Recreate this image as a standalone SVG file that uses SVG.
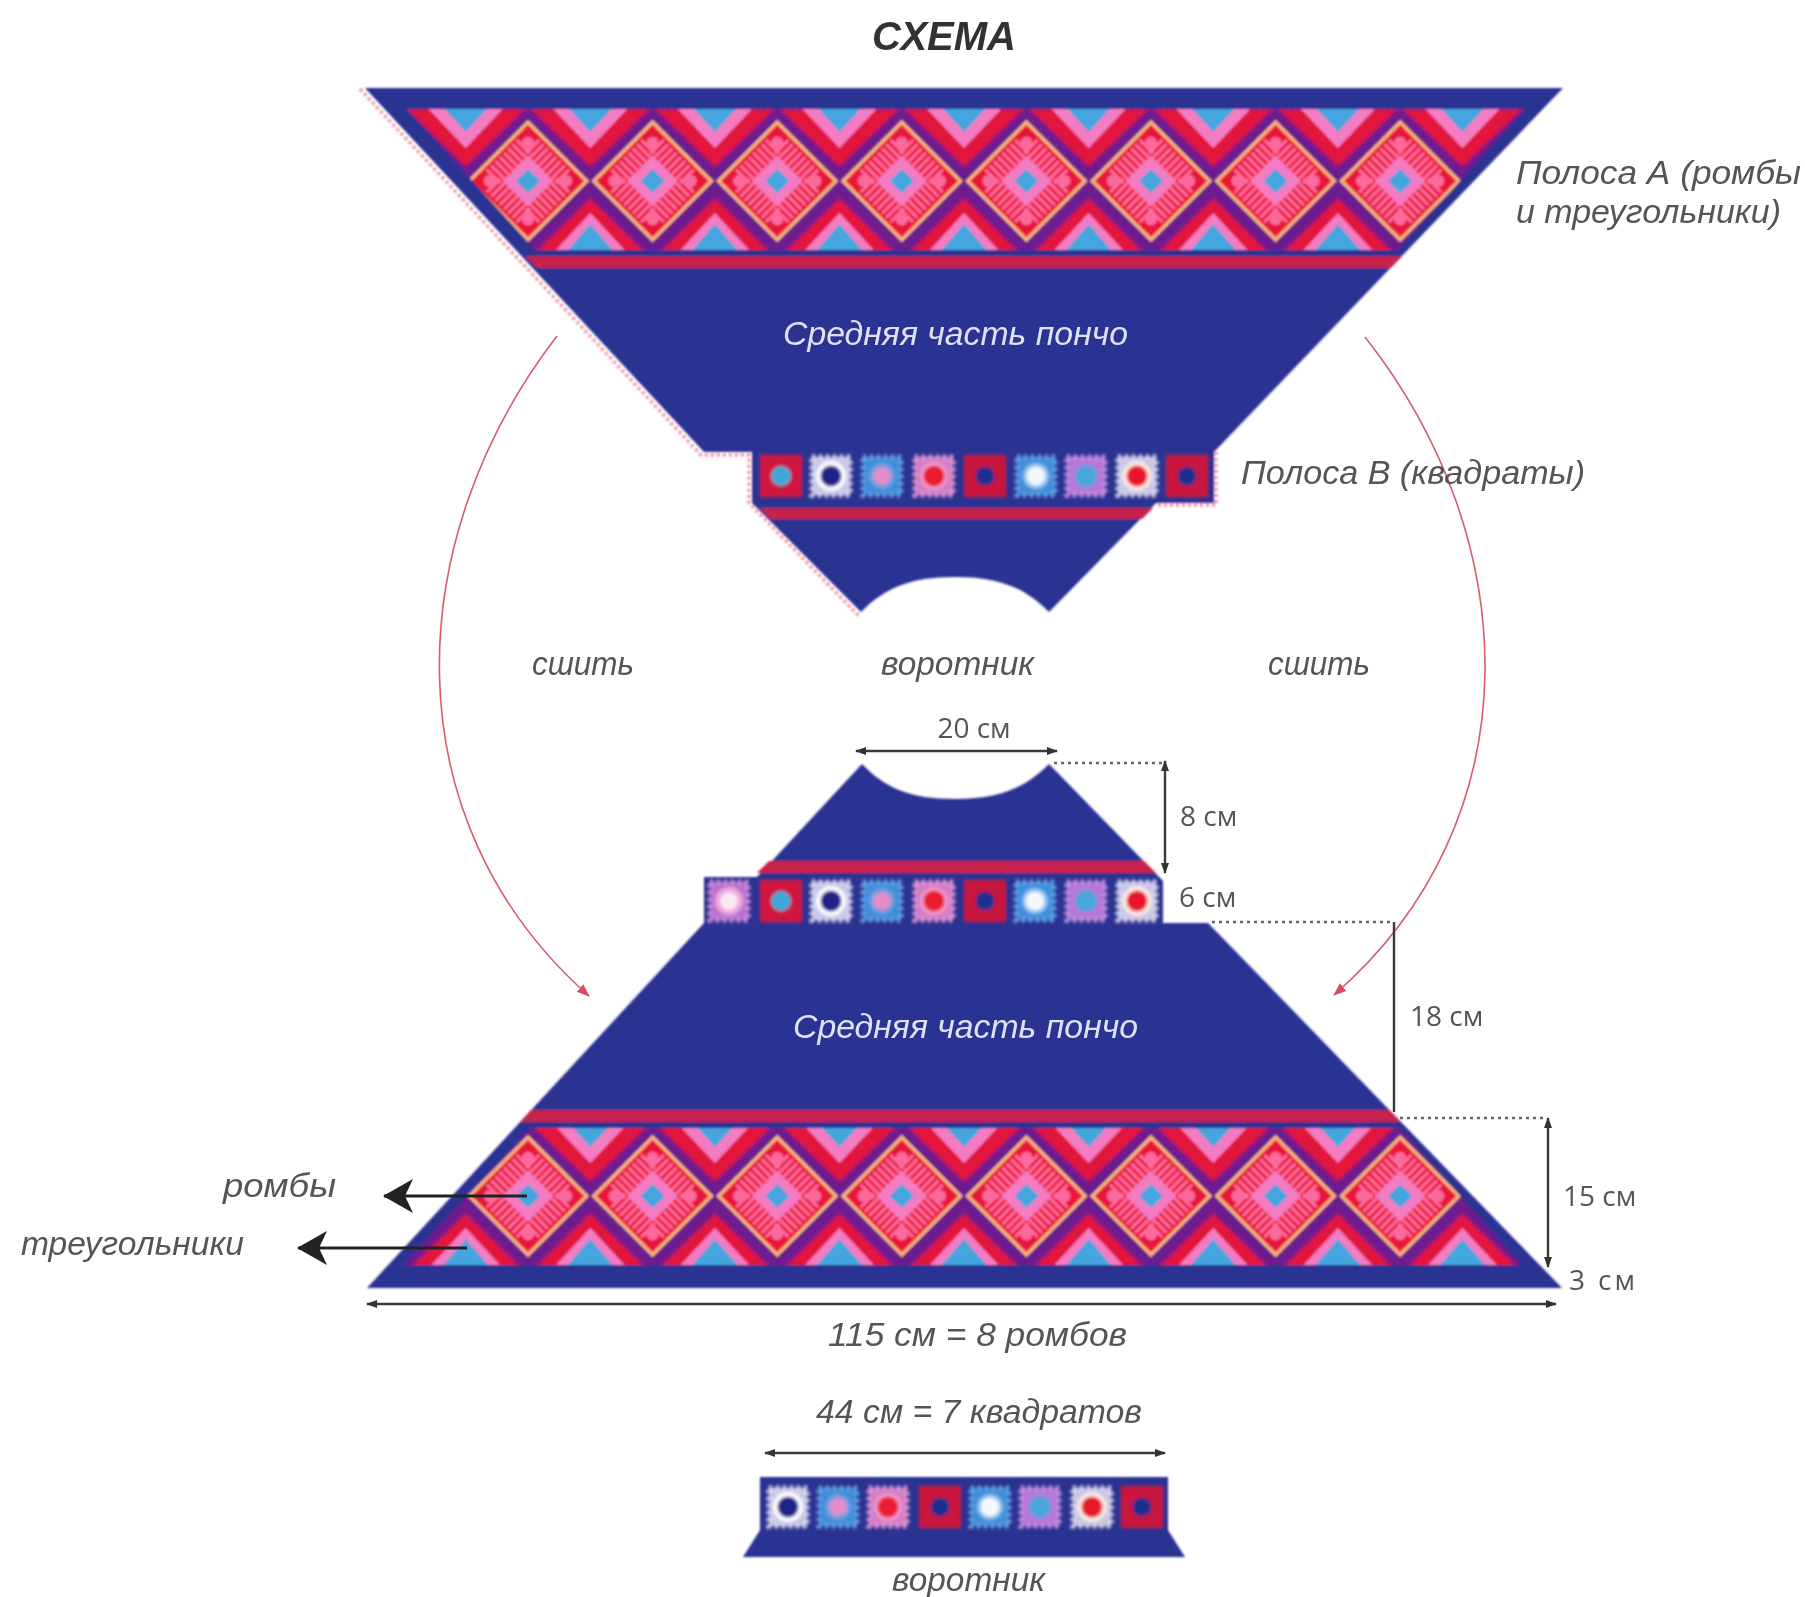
<svg xmlns="http://www.w3.org/2000/svg" width="1805" height="1597" viewBox="0 0 1805 1597">
<style>
.navy{fill:#2b3192}.bar{fill:#c6204c}.pur{fill:#6c1a8e}.red{fill:#e2163c;stroke:#a3157a;stroke-width:4;stroke-dasharray:3 3}.pink{fill:#f47cc2}.sky{fill:#45a5de}
text{font-family:"Liberation Sans",Arial,sans-serif;fill:#555}
.it{font-style:italic;font-size:33px}
.lt{fill:#dfe2f6;font-style:italic;font-size:33px}
.dim{font-family:"Open Sans","Noto Sans",sans-serif;font-size:28px}
.dl{stroke:#3a3a3a;stroke-width:2.4;fill:none}
.dot{stroke:#666;stroke-width:2.4;stroke-dasharray:3 4;fill:none}
.seam{stroke:#d95c6c;stroke-width:1.6;fill:none}
.edge{stroke:#ea8fa8;stroke-width:3.5;stroke-dasharray:3 3;fill:none}
</style>
<defs>
<filter id="soft" filterUnits="userSpaceOnUse" x="0" y="0" width="1805" height="1597"><feGaussianBlur stdDeviation="1.300"/></filter>
<filter id="softer" filterUnits="userSpaceOnUse" x="0" y="0" width="1805" height="1597"><feGaussianBlur stdDeviation="1.200"/></filter>
<filter id="softt" filterUnits="userSpaceOnUse" x="0" y="0" width="1805" height="1597"><feGaussianBlur stdDeviation="0.700"/></filter>
<marker id="ah" markerWidth="12" markerHeight="8" refX="10" refY="4" orient="auto-start-reverse" markerUnits="userSpaceOnUse"><path d="M0 0L11 4L0 8z" fill="#333"/></marker>
<marker id="ar" markerWidth="14" markerHeight="12" refX="12" refY="6" orient="auto" markerUnits="userSpaceOnUse"><path d="M0 1L13 6L0 11z" fill="#d94c60"/></marker>
<marker id="ab" markerWidth="34" markerHeight="36" refX="31" refY="18" orient="auto" markerUnits="userSpaceOnUse"><path d="M2 1L32 18L2 35L10 18z" fill="#222"/></marker>
<path id="t" d="M-21-37V-18M-15-37V-18M-9-37V-18M-3-37V-18M3-37V-18M9-37V-18M15-37V-18M21-37V-18" stroke="#ff6fa0" stroke-width="3" fill="none"/>
<g id="dia" transform="rotate(45)">
<rect x="-41.500" y="-41.500" width="83" height="83" fill="#e8183a" stroke="#f5b27e" stroke-width="3.500"/>
<use href="#t"/><use href="#t" transform="rotate(90)"/><use href="#t" transform="rotate(180)"/><use href="#t" transform="rotate(270)"/>
<rect x="-18" y="-18" width="36" height="36" class="pink"/>
<rect x="-8.500" y="-8.500" width="17" height="17" class="sky"/>
<circle cx="-27" cy="-27" r="6" fill="#fa6b9c"/><circle cx="27" cy="-27" r="6" fill="#fa6b9c"/><circle cx="-27" cy="27" r="6" fill="#fa6b9c"/><circle cx="27" cy="27" r="6" fill="#fa6b9c"/>
</g>
<g id="cv">
<path class="red" d="M-60-72H60L0-14z"/><path class="pink" d="M-37-72H37L0-33z"/><path class="sky" d="M-21-72H21L0-49z"/>
<path class="red" d="M-56 72H56L0 17z"/><path class="pink" d="M-37 72H37L0 32z"/><path class="sky" d="M-25 72H25L0 43z"/>
</g>
<g id="band">
<rect x="380" y="-72" width="1170" height="144" class="pur"/>
<use href="#cv" x="465.700"/><use href="#cv" x="590.300"/><use href="#cv" x="714.900"/><use href="#cv" x="839.500"/><use href="#cv" x="964.100"/><use href="#cv" x="1088.700"/><use href="#cv" x="1213.300"/><use href="#cv" x="1337.900"/><use href="#cv" x="1462.500"/>
<use href="#dia" x="528"/><use href="#dia" x="652.600"/><use href="#dia" x="777.200"/><use href="#dia" x="901.800"/><use href="#dia" x="1026.400"/><use href="#dia" x="1151"/><use href="#dia" x="1275.600"/><use href="#dia" x="1400.200"/>
</g>
<clipPath id="ctop"><path d="M407 109H1525L1398 250H535z"/></clipPath>
<clipPath id="cbot"><path d="M530 1128H1400L1522 1265H403z"/></clipPath>
<g id="sA"><rect x="-21" y="-21" width="42" height="42" fill="#d0183e"/><circle r="10" fill="#3fa8d8"/></g>
<g id="sE"><rect x="-21" y="-21" width="42" height="42" fill="#c8163c"/><circle r="9.500" fill="#1f2f90"/></g>
<g id="sB"><rect x="-19" y="-19" width="38" height="38" fill="#c8c8ea" stroke="#dde" stroke-width="5" stroke-dasharray="3 4"/><circle r="15" fill="#fff"/><circle r="10.500" fill="#1f2288"/></g>
<g id="sC"><rect x="-19" y="-19" width="38" height="38" fill="#3f8edb" stroke="#6ea9e6" stroke-width="5" stroke-dasharray="3 4"/><circle r="13" fill="#6f9fe0"/><circle r="9" fill="#e48cc8"/></g>
<g id="sD"><rect x="-19" y="-19" width="38" height="38" fill="#d67cc8" stroke="#e3a4d8" stroke-width="5" stroke-dasharray="3 4"/><circle r="14" fill="#f09acb"/><circle r="10.500" fill="#ea1a30"/></g>
<g id="sF"><rect x="-19" y="-19" width="38" height="38" fill="#3f8edb" stroke="#6ea9e6" stroke-width="5" stroke-dasharray="3 4"/><circle r="13" fill="#8fc2ee"/><circle r="9.500" fill="#f4f8ff"/></g>
<g id="sG"><rect x="-19" y="-19" width="38" height="38" fill="#b678d8" stroke="#cb9ce3" stroke-width="5" stroke-dasharray="3 4"/><circle r="11" fill="#48a5dc"/></g>
<g id="sH"><rect x="-19" y="-19" width="38" height="38" fill="#c9c6e6" stroke="#dde" stroke-width="5" stroke-dasharray="3 4"/><circle r="15" fill="#fbe9e4"/><circle r="10.500" fill="#e8162c"/></g>
<g id="sI"><rect x="-19" y="-19" width="38" height="38" fill="#bc6ed0" stroke="#d59be0" stroke-width="5" stroke-dasharray="3 4"/><circle r="14" fill="#eba8dc"/><circle r="9" fill="#fbeaf2"/></g>
</defs>
<rect width="1805" height="1597" fill="#fff"/>

<g id="top-panel" filter="url(#soft)">
<path class="navy" d="M365 88H1563L1214 452V503H1156L1049 612C1025 588 1000 577 955 577C910 577 885 588 861 612L752 503V452H704z"/>
<g clip-path="url(#ctop)"><use href="#band" y="181"/></g>
<path class="bar" d="M525 256H1402L1391 268H537z"/>
<path class="bar" d="M760 508H1153L1142 519H771z"/>
<g filter="url(#softer)"><use href="#sA" x="781" y="476"/><use href="#sB" x="831" y="476"/><use href="#sC" x="882" y="476"/><use href="#sD" x="934" y="476"/><use href="#sE" x="985" y="476"/><use href="#sF" x="1036" y="476"/><use href="#sG" x="1086" y="476"/><use href="#sH" x="1137" y="476"/><use href="#sE" x="1187" y="476"/></g>
<path class="edge" d="M360 89L701 455H749V503L860 617"/>
<path class="edge" d="M1216 452V505H1156"/>
</g>

<g id="bottom-panel" filter="url(#soft)">
<path class="navy" d="M862 764C885 788 910 799 955 799C1000 799 1025 788 1049 764L1163 881V923H1208L1562 1288H367L704 923V877H757z"/>
<g clip-path="url(#cbot)"><use href="#band" y="1196"/></g>
<path class="bar" d="M531 1110H1389L1401 1122H520z"/>
<path class="bar" d="M769 861H1144L1156 873H757z"/>
<g filter="url(#softer)"><use href="#sI" x="729" y="901"/><use href="#sA" x="781" y="901"/><use href="#sB" x="831" y="901"/><use href="#sC" x="882" y="901"/><use href="#sD" x="934" y="901"/><use href="#sE" x="985" y="901"/><use href="#sF" x="1035" y="901"/><use href="#sG" x="1086" y="901"/><use href="#sH" x="1137" y="901"/></g>
</g>

<g id="collar-panel" filter="url(#soft)">
<path class="navy" d="M760 1477H1168V1530L1185 1557H743L760 1530z"/>
<g filter="url(#softer)"><use href="#sB" x="788" y="1507"/><use href="#sC" x="838" y="1507"/><use href="#sD" x="888" y="1507"/><use href="#sE" x="940" y="1507"/><use href="#sF" x="990" y="1507"/><use href="#sG" x="1040" y="1507"/><use href="#sH" x="1092" y="1507"/><use href="#sE" x="1142" y="1507"/></g>
</g>

<g id="connectors">
<path class="seam" marker-end="url(#ar)" d="M557 336C400 540 390 820 589 996"/>
<path class="seam" marker-end="url(#ar)" d="M1365 337C1525 540 1535 820 1334 995"/>
<path class="dl" marker-start="url(#ah)" marker-end="url(#ah)" d="M856 751H1057"/>
<path class="dot" d="M1054 763H1162"/>
<path class="dl" marker-start="url(#ah)" marker-end="url(#ah)" d="M1165 761V873"/>
<path class="dot" d="M1212 922H1392"/>
<path class="dl" d="M1394 922V1112"/>
<path class="dot" d="M1400 1118H1545"/>
<path class="dl" marker-start="url(#ah)" marker-end="url(#ah)" d="M1548 1118V1267"/>
<path class="dl" marker-start="url(#ah)" marker-end="url(#ah)" d="M367 1304H1556"/>
<path class="dl" marker-start="url(#ah)" marker-end="url(#ah)" d="M765 1453H1165"/>
<path d="M527 1196H384" stroke="#222" stroke-width="3" fill="none" marker-end="url(#ab)"/>
<path d="M467 1248H298" stroke="#222" stroke-width="3" fill="none" marker-end="url(#ab)"/>
</g>

<g id="labels" filter="url(#softt)">
<text x="944" y="50" text-anchor="middle" font-size="40" font-weight="700" font-style="italic" style="fill:#333">СХЕМА</text>
<text class="it" x="1516" y="184" textLength="285" lengthAdjust="spacingAndGlyphs">Полоса А (ромбы</text>
<text class="it" x="1516" y="223" textLength="265" lengthAdjust="spacingAndGlyphs">и треугольники)</text>
<text class="lt" x="783" y="345" textLength="345" lengthAdjust="spacingAndGlyphs">Средняя часть пончо</text>
<text class="it" x="1241" y="484" textLength="344" lengthAdjust="spacingAndGlyphs">Полоса В (квадраты)</text>
<text class="it" x="532" y="675" textLength="102" lengthAdjust="spacingAndGlyphs">сшить</text>
<text class="it" x="881" y="675" textLength="153" lengthAdjust="spacingAndGlyphs">воротник</text>
<text class="it" x="1268" y="675" textLength="102" lengthAdjust="spacingAndGlyphs">сшить</text>
<text class="dim" x="974" y="738" text-anchor="middle">20 см</text>
<text class="dim" x="1180" y="826">8 см</text>
<text class="dim" x="1179" y="907">6 см</text>
<text class="lt" x="793" y="1038" textLength="345" lengthAdjust="spacingAndGlyphs">Средняя часть пончо</text>
<text class="dim" x="1410" y="1026">18 см</text>
<text class="dim" x="1563" y="1206">15 см</text>
<text class="dim" x="1569" y="1290" textLength="66">3  см</text>
<text class="it" x="223" y="1197" textLength="113" lengthAdjust="spacingAndGlyphs">ромбы</text>
<text class="it" x="21" y="1255" textLength="223" lengthAdjust="spacingAndGlyphs">треугольники</text>
<text class="it" x="828" y="1346" textLength="299" lengthAdjust="spacingAndGlyphs">115 см = 8 ромбов</text>
<text class="it" x="816" y="1423" textLength="326" lengthAdjust="spacingAndGlyphs">44 см = 7 квадратов</text>
<text class="it" x="892" y="1591" textLength="153" lengthAdjust="spacingAndGlyphs">воротник</text>
</g>
</svg>
